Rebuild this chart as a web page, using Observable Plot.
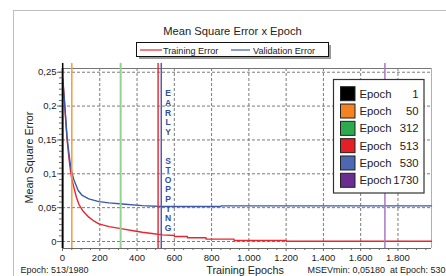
<!DOCTYPE html>
<html><head><meta charset="utf-8">
<script src="https://cdn.jsdelivr.net/npm/d3@7"></script>
<script src="https://cdn.jsdelivr.net/npm/@observablehq/plot@0.6"></script>
<style>body{margin:0;background:#fff;font-family:"Liberation Sans",Arial,sans-serif}</style>
</head><body><div id="chart"></div>
<script>
// ---- data ----
const trainEpochs = [1, 5, 10, 15, 20, 25, 30, 35, 43, 50, 61, 75, 88, 110, 141, 170, 195, 250, 321, 380, 428, 480, 536, 600, 601, 670, 671, 770, 771, 920, 921, 1200, 1201, 1980];
const trainMSE    = [0.240, 0.228, 0.208, 0.188, 0.168, 0.150, 0.136, 0.122, 0.104, 0.092, 0.080, 0.065, 0.055, 0.045, 0.036, 0.030, 0.026, 0.022, 0.0186, 0.016, 0.0137, 0.0118, 0.0098, 0.0088, 0.0075, 0.0075, 0.0055, 0.0055, 0.0035, 0.0035, 0.0015, 0.0015, 0.0005, 0.0005];
const valEpochs = [1, 10, 25, 40, 52, 60, 70, 85, 106, 141, 195, 250, 321, 428, 530, 850, 851, 1980];
const valMSE    = [0.240, 0.210, 0.152, 0.118, 0.100, 0.092, 0.085, 0.075, 0.068, 0.063, 0.059, 0.057, 0.0554, 0.053, 0.0518, 0.0518, 0.0527, 0.0527];
const markerEpochs = [1, 50, 312, 513, 530, 1730];
const markerLineColors = ["#000000", "#f39a3c", "#90d490", "#e8323a", "#4a62ad", "#a878c0"];
const markerBoxColors = ["#000000", "#f58220", "#2eaa4e", "#e41f26", "#4d68b0", "#6b2d90"];
const seriesNames = ["Training Error", "Validation Error"];
const seriesColors = ["#e8262e", "#3d58a8"];
const xTicks = [0, 200, 400, 600, 800, 1000, 1200, 1400, 1600, 1800];
const yTicks = [0, 0.05, 0.1, 0.15, 0.2, 0.25];
const yTickLabels = ["0", "0,05", "0,1", "0,15", "0,2", "0,25"];
const totalEpochs = 1980;
const currentEpoch = 513;
const msevMinText = "0,05180";
const msevMinEpoch = 530;
const earlyStopText = "E\nA\nR\nL\nY\n\u00a0\n\u00a0\nS\nT\nO\nP\nP\nI\nN\nG";

// ---- build ----
const trainData = trainEpochs.map((e, i) => ({epoch: e, mse: trainMSE[i]}));
const valData = valEpochs.map((e, i) => ({epoch: e, mse: valMSE[i]}));
const fmtX = d3.formatLocale({decimal: ",", thousands: ".", grouping: [3], currency: ["", ""]}).format(",");
const fmtY = d => yTickLabels[yTicks.indexOf(d)];
const yMin = -0.0103, yMax = 0.2555;
const minorX = d3.range(0, totalEpochs + 1, 50).filter(d => d % 200 !== 0);
const minorY = d3.range(0, 31).map(i => i * 0.05 / 6).filter(d => d <= yMax);

const chart = Plot.plot({
  width: 446, height: 276,
  marginLeft: 62, marginRight: 15, marginTop: 68, marginBottom: 28,
  style: {fontFamily: "'Liberation Sans', Arial, sans-serif", fontSize: "9.5px", background: "#fff", color: "#222", overflow: "visible"},
  x: {domain: [0, totalEpochs]},
  y: {domain: [yMin, yMax]},
  marks: [
    Plot.gridX(xTicks, {stroke: "#7a7a7a", strokeOpacity: 1, strokeDasharray: "3,2"}),
    Plot.gridY(yTicks, {stroke: "#7a7a7a", strokeOpacity: 1, strokeDasharray: "3,2"}),
    Plot.ruleY([yMax], {stroke: "#777"}),
    Plot.ruleX([totalEpochs], {stroke: "#b0b0b0"}),
    Plot.axisX(minorX, {tickSize: 2, tickFormat: () => "", stroke: "#666", label: null}),
    Plot.axisX(xTicks, {tickSize: 3, tickPadding: 3, tickFormat: fmtX, stroke: "#666", label: null}),
    Plot.axisY(minorY, {tickSize: 3, tickFormat: () => "", stroke: "#666", label: null}),
    Plot.axisY(yTicks, {tickSize: 5, tickPadding: 1, tickFormat: fmtY, stroke: "#666", label: null}),
    Plot.ruleY([yMin], {stroke: "#666"}),
    Plot.ruleX([0], {stroke: "#666", strokeWidth: 2}),
    Plot.line(trainData, {x: "epoch", y: "mse", stroke: seriesColors[0], strokeWidth: 1.4}),
    Plot.line(valData, {x: "epoch", y: "mse", stroke: seriesColors[1], strokeWidth: 1.4}),
    ...markerEpochs.map((e, i) => Plot.ruleX([e], {y1: yMin, y2: 0.263, stroke: markerLineColors[i], strokeWidth: i === 2 ? 2 : 1.5})),
    Plot.text([earlyStopText], {x: 567, frameAnchor: "top", dy: 21, lineAnchor: "top", lineHeight: 1.13, fontSize: 8.5, fill: "#2f4fa0", fontWeight: "bold"})
  ]
});

const svg = d3.select(chart);
const font = "'Liberation Sans', Arial, sans-serif";
const addText = (x, y, size, txt, anchor = "start") =>
  svg.append("text").attr("x", x).attr("y", y).attr("text-anchor", anchor)
    .attr("font-family", font).attr("font-size", size).attr("fill", "#222").text(txt);
// outer frame
svg.append("rect").attr("x", 13.5).attr("y", 10.5).attr("width", 500).attr("height", 300)
  .attr("fill", "none").attr("stroke", "#bdbdbd");
// title
addText(232.5, 34.5, 11.2, "Mean Square Error x Epoch", "middle");
// top legend
svg.append("rect").attr("x", 139).attr("y", 45).attr("width", 192).attr("height", 14).attr("fill", "#9a9a9a");
svg.append("rect").attr("x", 136.5).attr("y", 42.5).attr("width", 192).attr("height", 14)
  .attr("fill", "#fff").attr("stroke", "#111");
const legX = [[140, 162, 163], [231, 250, 253]];
seriesNames.forEach((n, i) => {
  svg.append("line").attr("x1", legX[i][0]).attr("x2", legX[i][1]).attr("y1", 50).attr("y2", 50)
    .attr("stroke", seriesColors[i]).attr("stroke-width", 1.2);
  addText(legX[i][2], 53.5, 9.1, n);
});
// y label
svg.append("text").attr("transform", "translate(33,157.5) rotate(-90)").attr("text-anchor", "middle")
  .attr("font-family", font).attr("font-size", 10.8).attr("fill", "#222").text("Mean Square Error");
// bottom texts
addText(20.5, 273, 9, `Epoch: ${currentEpoch}/${totalEpochs}`);
addText(245, 273.5, 10.8, "Training Epochs", "middle");
addText(445.5, 273, 9, `MSEVmin: ${msevMinText}\u00a0\u00a0at Epoch: ${msevMinEpoch}`, "end");
// right legend
svg.append("rect").attr("x", 333.5).attr("y", 79.5).attr("width", 90.5).attr("height", 113.5)
  .attr("fill", "#fff").attr("stroke", "#333").attr("stroke-width", 1.2);
markerEpochs.forEach((e, i) => {
  const top = 86.7 + i * 17.32;
  svg.append("rect").attr("x", 340.5).attr("y", top).attr("width", 14.5).attr("height", 14)
    .attr("fill", markerBoxColors[i]).attr("stroke", "#222").attr("stroke-width", 1);
  addText(359.5, top + 11, 11.3, "Epoch");
  addText(418.5, top + 11, 11.3, String(e), "end");
});
document.getElementById("chart").appendChild(chart);
</script>
</body></html>
